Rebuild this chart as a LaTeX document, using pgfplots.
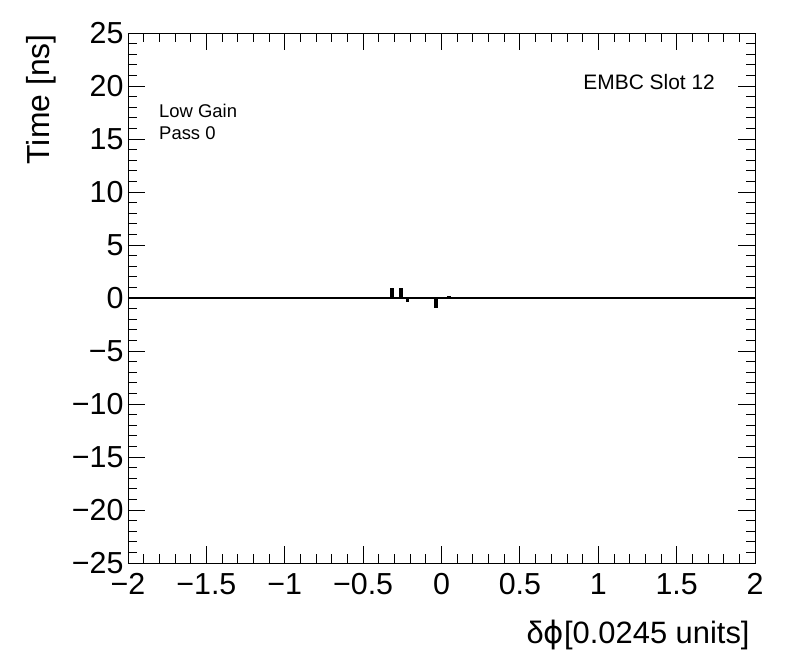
\documentclass[border=0pt]{standalone}
\usepackage{pgfplots}
\pgfplotsset{compat=1.18}
\usepackage{fontspec}
\setmainfont{Liberation Sans}
\newfontfamily\djv{DejaVu Sans}
\begin{document}
\begin{tikzpicture}
\useasboundingbox (-128bp,-109bp) rectangle (668bp,563bp);
\begin{axis}[
  scale only axis,
  width=627bp, height=530bp,
  xmin=-2, xmax=2, ymin=-25, ymax=25,
  axis line style={line width=0.8bp},
  xtick={-2,-1.5,...,2},
  xticklabels={−2,−1.5,−1,−0.5,0,0.5,1,1.5,2},
  ytick={-25,-20,...,25},
  yticklabels={−25,−20,−15,−10,−5,0,5,10,15,20,25},
  minor x tick num=4, minor y tick num=4,
  tick align=inside, tick pos=both,
  major tick length=17bp, minor tick length=9bp,
  every tick/.style={line width=0.8bp, black},
  ticklabel style={font=\fontsize{30.5}{36}\selectfont},
  xticklabel style={yshift=-7bp},
  yticklabel style={xshift=-1bp},
  xlabel={δ{\djv ϕ}[0.0245 units]},
  ylabel={Time [ns]},
  xlabel style={at={(axis description cs:0.997,-0.151)}, anchor=base east, font=\fontsize{31}{37}\selectfont},
  ylabel style={at={(axis description cs:-0.1244,1.004)}, anchor=base east, rotate=0, font=\fontsize{32}{38}\selectfont},
  clip=false,
]
\addplot[const plot mark left, line width=2.2bp, black, mark=none] coordinates {
  (-2,0) (-0.3217,0.85) (-0.3103,0) (-0.2622,0.85) (-0.2508,0) (-0.2215,-0.3) (-0.2125,0)
  (-0.0407,-0.85) (-0.0293,0) (0.044,0.12) (0.051,0) (2,0)
};
\node[anchor=base west, font=\fontsize{18.5}{22}\selectfont, inner sep=0] at (axis cs:-1.802,17.0) {Low Gain};
\node[anchor=base west, font=\fontsize{18.5}{22}\selectfont, inner sep=0] at (axis cs:-1.802,14.95) {Pass 0};
\node[anchor=base east, font=\fontsize{21}{25}\selectfont, inner sep=0] at (axis cs:1.745,19.7) {EMBC Slot 12};
\end{axis}
\end{tikzpicture}
\end{document}
